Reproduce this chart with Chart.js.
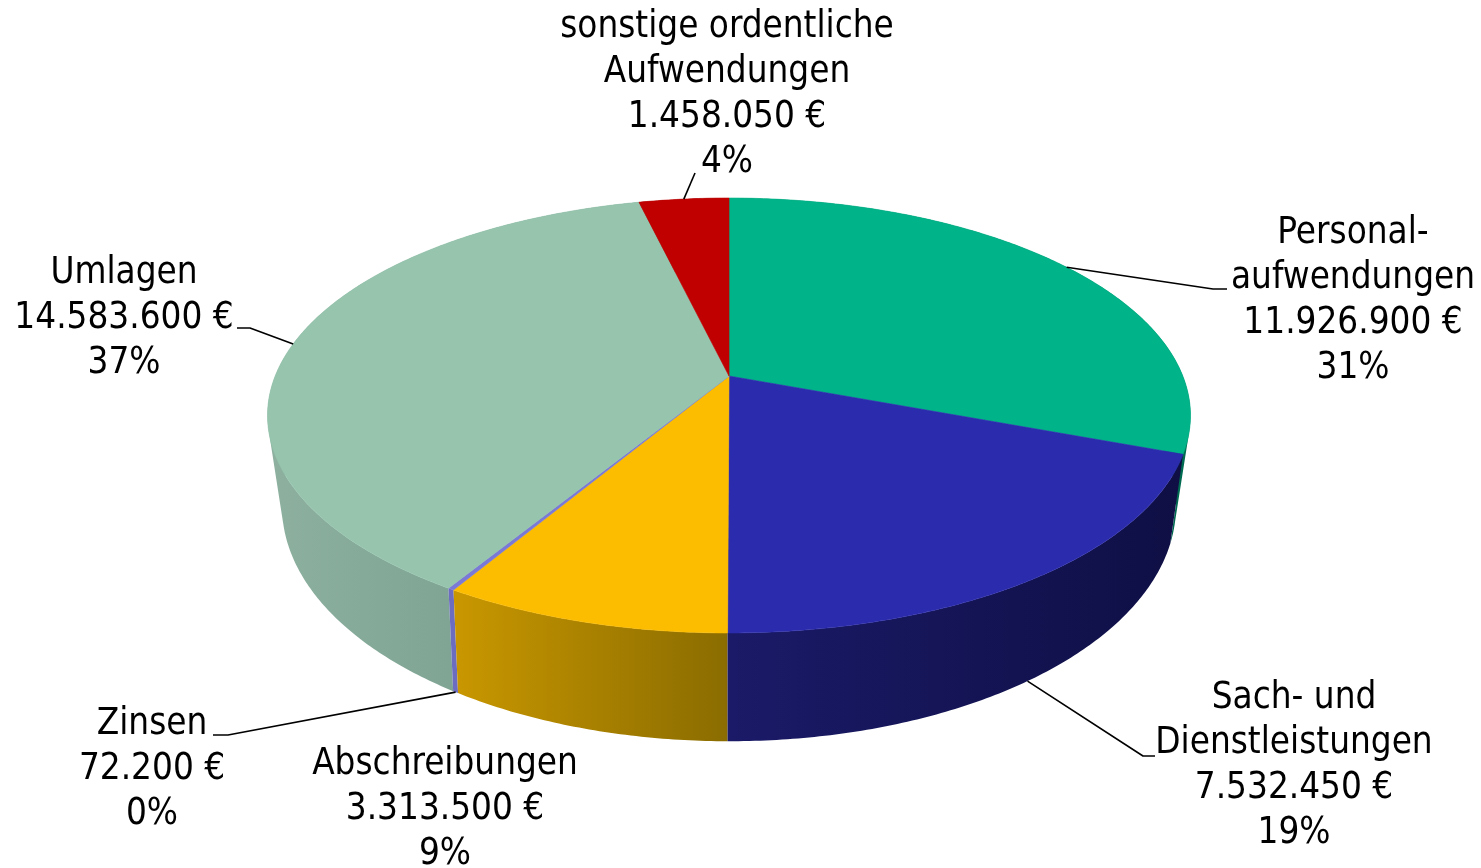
<!DOCTYPE html>
<html lang="de"><head><meta charset="utf-8">
<style>html,body{margin:0;padding:0;background:#fff;overflow:hidden}canvas{display:block}</style>
<script src="https://cdn.jsdelivr.net/npm/chart.js@4"></script></head>
<body><canvas id="c" width="1481" height="868"></canvas>
<script>
const categories = ["Personalaufwendungen","Sach- und Dienstleistungen","Abschreibungen","Zinsen","Umlagen","sonstige ordentliche Aufwendungen"];
const labelLines = [["Personal-","aufwendungen"],["Sach- und","Dienstleistungen"],["Abschreibungen"],["Zinsen"],["Umlagen"],["sonstige ordentliche","Aufwendungen"]];
const amounts = [11926900,7532450,3313500,72200,14583600,1458050];
const percentLabels = ["31%","19%","9%","0%","37%","4%"];
const topColors = ["#00b388","#2b2bad","#fcbc00","#7a7ad6","#96c4ad","#c00000"];
const wallLeft  = ["#00805f","#1a1a68","#c99700","#6c6cc0","#8db09f","#8a0000"];
const wallRight = ["#006a50","#0f0f45","#8a6c00","#6c6cc0","#72998a","#8a0000"];
// label layout: centre x, first line centre y
const labelX = [1353,1294,445,152,124,727];
const labelY = [234,699,765,725,274,28];
// leader lines: which rim (top/bottom), elbow, end
const leaderRim = ["top","bottom",null,"bottom","top","top"];
const leaderPts = [[[1213,289],[1227,289]],[[1143,756],[1155,756]],null,[[228,735],[213,735]],[[250,328],[237,328]],[[695,173]]];
const LINE_H = 45;
const CX = 729;
const topDisc = {y:376,a:453.8,b:210.3,k:0.1816};
const botDisc = {y:459,a:438,b:225.8,k:0.2};
const proj = (d,ang)=>{const u=Math.cos(ang),v=Math.sin(ang),w=1-d.k*v;return [CX+d.a*u/w,d.y+d.b*v/w];};
function arcPts(d,s,e){const n=Math.max(2,Math.ceil(Math.abs(e-s)/0.01));const p=[];for(let i=0;i<=n;i++)p.push(proj(d,s+(e-s)*i/n));return p;}
const area=q=>q.reduce((a,p,i)=>{const r=q[(i+1)%q.length];return a+p[0]*r[1]-r[0]*p[1];},0);
const pie3d = {
  id:'pie3d',
  beforeDatasetDraw(chart,args){
    const ctx=chart.ctx, els=args.meta.data;
    ctx.save();
    // side walls: the far slices first, the near right slice last
    [0,5,4,3,2,1].forEach(i=>{
      const el=els[i];
      const t=arcPts(topDisc,el.startAngle,el.endAngle), b=arcPts(botDisc,el.startAngle,el.endAngle);
      const xs=t.concat(b).map(p=>p[0]);
      const g=ctx.createLinearGradient(Math.min(...xs),0,Math.max(...xs),0);
      g.addColorStop(0,wallLeft[i]);g.addColorStop(1,wallRight[i]);
      ctx.fillStyle=g;
      ctx.beginPath();
      for(let j=0;j<t.length-1;j++){
        let q=[t[j],t[j+1],b[j+1],b[j]];
        if(area(q)<0)q=q.reverse();
        q.forEach((p,n)=>n?ctx.lineTo(p[0],p[1]):ctx.moveTo(p[0],p[1]));
        ctx.closePath();
      }
      ctx.fill('nonzero');
    });
    // top faces
    els.forEach((el)=>{
      const pts=arcPts(topDisc,el.startAngle,el.endAngle);
      ctx.beginPath();ctx.moveTo(CX,topDisc.y);pts.forEach(p=>ctx.lineTo(p[0],p[1]));ctx.closePath();
      ctx.fillStyle=el.options.backgroundColor;ctx.fill();
      ctx.strokeStyle=el.options.backgroundColor;ctx.lineWidth=0.6;ctx.stroke();
    });
    // leaders + labels
    ctx.strokeStyle='#000';ctx.lineWidth=1.6;ctx.lineJoin='round';
    els.forEach((el,i)=>{
      if(!leaderRim[i])return;
      const s=proj(leaderRim[i]==='top'?topDisc:botDisc,(el.startAngle+el.endAngle)/2);
      ctx.beginPath();ctx.moveTo(s[0],s[1]);leaderPts[i].forEach(p=>ctx.lineTo(p[0],p[1]));ctx.stroke();
    });
    ctx.fillStyle='#000';ctx.textAlign='center';ctx.textBaseline='middle';
    ctx.font='36.5px "DejaVu Sans Condensed","DejaVu Sans"';
    categories.forEach((_,i)=>{
      const lines=labelLines[i].concat([amounts[i].toLocaleString('de-DE')+' €',percentLabels[i]]);
      lines.forEach((t,j)=>ctx.fillText(t,labelX[i],labelY[i]+j*LINE_H));
    });
    ctx.restore();
    return false;
  }
};
new Chart(document.getElementById('c'),{
  type:'pie',
  data:{labels:categories,datasets:[{data:amounts,backgroundColor:topColors,borderWidth:0}]},
  options:{responsive:false,animation:false,plugins:{legend:{display:false},tooltip:{enabled:false}},layout:{padding:0}},
  plugins:[pie3d]
});
</script></body></html>
